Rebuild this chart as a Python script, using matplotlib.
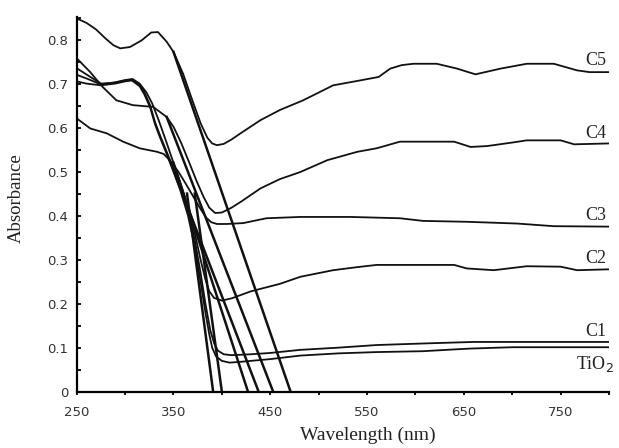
import numpy as np
import matplotlib
matplotlib.use("Agg")
import matplotlib.pyplot as plt
from matplotlib.ticker import MultipleLocator

# spectra (wavelength in nm, absorbance)
wl_c5 = [250, 260, 270, 280, 288, 295, 305, 317, 327, 334, 343, 350, 360, 369, 378, 385, 390, 395, 402,
         410, 420, 440, 460, 484, 515, 540, 562, 574, 586, 598, 622, 643, 662, 688, 715, 743, 767, 780, 800]
abs_c5 = [0.848, 0.838, 0.823, 0.802, 0.787, 0.780, 0.783, 0.798, 0.816, 0.817, 0.795, 0.772, 0.722, 0.665,
          0.610, 0.577, 0.564, 0.560, 0.563, 0.573, 0.588, 0.617, 0.640, 0.662, 0.696, 0.706, 0.715, 0.734,
          0.742, 0.745, 0.745, 0.734, 0.721, 0.734, 0.745, 0.745, 0.730, 0.726, 0.726]

wl_c4 = [250, 252, 264, 277, 291, 308, 329, 343, 350, 358, 366, 374, 381, 387, 393, 400, 410, 420, 440,
         460, 481, 509, 540, 560, 584, 640, 657, 674, 700, 715, 750, 764, 800]
abs_c4 = [0.757, 0.753, 0.726, 0.692, 0.662, 0.651, 0.647, 0.624, 0.602, 0.565, 0.522, 0.478, 0.443, 0.418,
          0.406, 0.407, 0.418, 0.432, 0.462, 0.483, 0.499, 0.526, 0.545, 0.553, 0.568, 0.568, 0.556, 0.558,
          0.566, 0.571, 0.571, 0.562, 0.564]

wl_c3 = [250, 264, 281, 298, 315, 333, 340, 346, 355, 362, 370, 378, 384, 389, 395, 405, 422, 446, 481,
         533, 584, 608, 653, 705, 743, 800]
abs_c3 = [0.621, 0.598, 0.587, 0.568, 0.553, 0.545, 0.540, 0.526, 0.500, 0.475, 0.445, 0.415, 0.395, 0.385,
          0.381, 0.381, 0.383, 0.394, 0.397, 0.397, 0.394, 0.388, 0.386, 0.382, 0.376, 0.375]

wl_c2 = [250, 262, 275, 290, 300, 308, 315, 322, 328, 335, 343, 350, 357, 365, 372, 378, 383, 387, 392,
         400, 410, 430, 460, 481, 515, 540, 560, 640, 653, 681, 715, 750, 767, 800]
abs_c2 = [0.735, 0.718, 0.700, 0.702, 0.707, 0.710, 0.700, 0.680, 0.655, 0.615, 0.565, 0.520, 0.475, 0.420,
          0.360, 0.300, 0.255, 0.228, 0.213, 0.207, 0.212, 0.228, 0.245, 0.261, 0.276, 0.283, 0.288, 0.288,
          0.280, 0.276, 0.285, 0.284, 0.276, 0.278]

wl_c1 = [250, 262, 275, 290, 300, 307, 315, 320, 326, 331, 336, 343, 350, 357, 365, 372, 378, 383, 388,
         392, 396, 402, 410, 430, 450, 481, 520, 560, 615, 660, 800]
abs_c1 = [0.720, 0.710, 0.698, 0.703, 0.708, 0.710, 0.697, 0.680, 0.650, 0.612, 0.583, 0.545, 0.506, 0.463,
          0.410, 0.345, 0.270, 0.200, 0.140, 0.110, 0.093, 0.085, 0.083, 0.085, 0.088, 0.095, 0.100, 0.106,
          0.110, 0.113, 0.113]

wl_tio2 = [250, 260, 275, 290, 300, 307, 315, 320, 326, 331, 336, 343, 350, 357, 365, 372, 378, 383, 387,
           390, 394, 400, 408, 420, 450, 481, 520, 560, 608, 640, 657, 700, 800]
abs_tio2 = [0.705, 0.700, 0.696, 0.700, 0.705, 0.707, 0.694, 0.675, 0.645, 0.607, 0.578, 0.540, 0.500, 0.458,
            0.400, 0.330, 0.250, 0.180, 0.130, 0.100, 0.080, 0.070, 0.066, 0.068, 0.074, 0.082, 0.087, 0.090,
            0.092, 0.096, 0.098, 0.101, 0.101]

# band-edge extrapolation lines: start point and x intercept
tan_x_start = [364, 372, 350, 346, 343, 350]
tan_y_start = [0.45, 0.45, 0.52, 0.526, 0.624, 0.772]
tan_x0 = [391, 400, 427, 438, 453, 471]

labels = ["TiO$_2$", "C1", "C2", "C3", "C4", "C5"]
label_y = [0.064, 0.136, 0.303, 0.401, 0.586, 0.753]

xticks = [250, 350, 450, 550, 650, 750]
yticks = [0, 0.1, 0.2, 0.3, 0.4, 0.5, 0.6, 0.7, 0.8]
ytick_labels = ["0", "0.1", "0.2", "0.3", "0.4", "0.5", "0.6", "0.7", "0.8"]

fig = plt.figure(figsize=(6.19, 4.48), dpi=100)
ax = fig.add_axes([0.1239, 0.1257, 0.8599, 0.8371])

line_col = "#111111"
for wl, ab in [(wl_tio2, abs_tio2), (wl_c1, abs_c1), (wl_c2, abs_c2),
               (wl_c3, abs_c3), (wl_c4, abs_c4), (wl_c5, abs_c5)]:
    ax.plot(wl, ab, color=line_col, lw=1.3)

for xs, ys, x0 in zip(tan_x_start, tan_y_start, tan_x0):
    ax.plot([xs, x0], [ys, 0], color=line_col, lw=1.8)

for lab, ly in zip(labels, label_y):
    ax.text(786, ly, lab, ha="center", va="center", fontsize=13,
            family="Liberation Serif", color="#222222")

ax.set_xlim(250, 800)
ax.set_ylim(0, 0.852)
ax.spines["top"].set_visible(False)
ax.spines["right"].set_visible(False)
ax.spines["left"].set_linewidth(1.6)
ax.spines["bottom"].set_linewidth(1.6)

ax.set_xticks(xticks)
ax.xaxis.set_minor_locator(MultipleLocator(50))
ax.set_yticks(yticks)
ax.set_yticklabels(ytick_labels)
ax.yaxis.set_minor_locator(MultipleLocator(0.05))

ax.tick_params(axis="y", which="both", direction="in", length=3, width=1.3, pad=6,
               labelsize=9.5, labelcolor="#333333")
ax.tick_params(axis="x", which="both", direction="out", length=2, width=1.3, pad=8,
               labelsize=9.5, labelcolor="#333333")

ax.set_xlabel("Wavelength (nm)", family="Liberation Serif", fontsize=14, color="#222222")
ax.xaxis.set_label_coords(0.547, -0.093)
ax.set_ylabel("Absorbance", family="Liberation Serif", fontsize=13.5, color="#222222")
ax.yaxis.set_label_coords(-0.097, 0.516)

fig.savefig("out.png", dpi=100)
